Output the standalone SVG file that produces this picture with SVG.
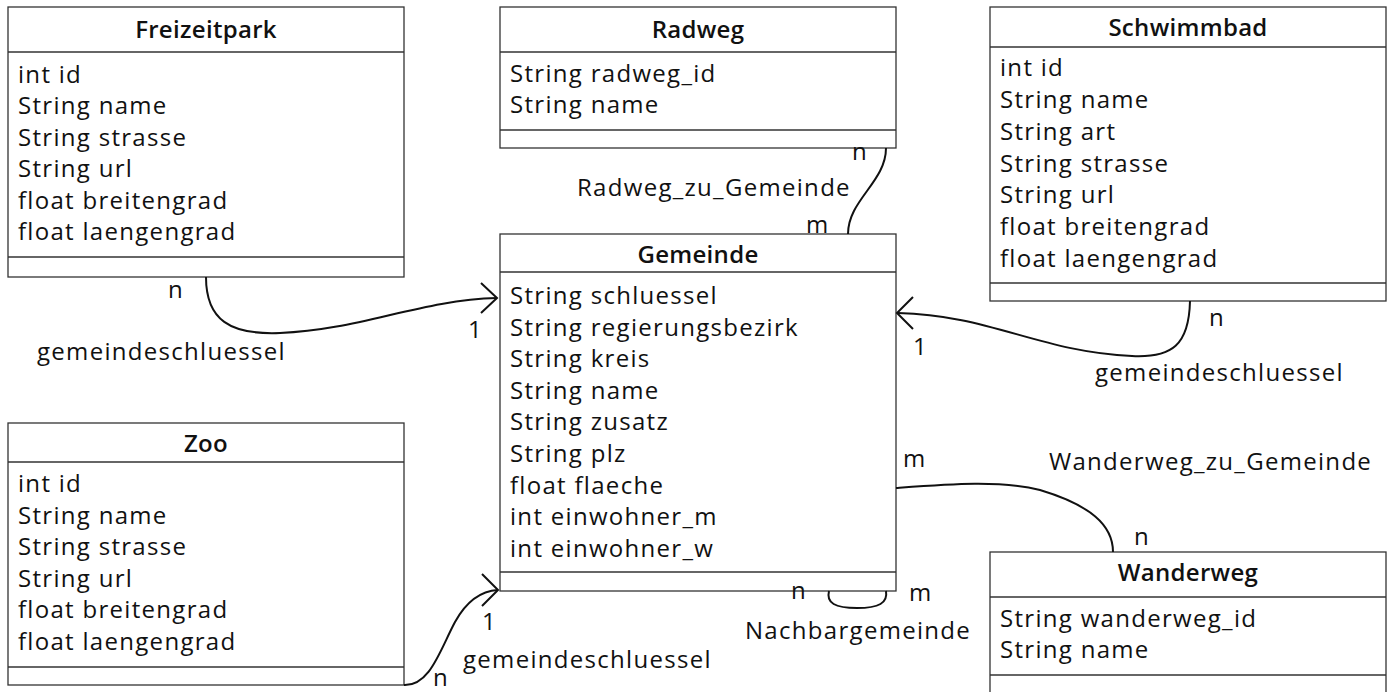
<svg xmlns="http://www.w3.org/2000/svg" width="1395" height="692" viewBox="0 0 1395 692">
<defs>
<style>
.box{fill:#fff;stroke:#333;stroke-width:1.3}
.sep{stroke:#333;stroke-width:1.3;fill:none}
.t{font-family:"Open Sans","DejaVu Sans",sans-serif;font-size:24px;letter-spacing:1.3px;fill:#111}
.h{font-family:"Open Sans","DejaVu Sans",sans-serif;font-size:24px;font-weight:600;letter-spacing:0.3px;fill:#111;text-anchor:middle}
.c{fill:none;stroke:#111;stroke-width:2}
</style>
</defs>
<rect width="1395" height="692" fill="#fff"/>
<g id="Freizeitpark">
<rect class="box" x="8" y="7" width="396" height="270"/>
<line class="sep" x1="8" y1="52" x2="404" y2="52"/>
<line class="sep" x1="8" y1="257" x2="404" y2="257"/>
<text class="h" x="206" y="38">Freizeitpark</text>
<text class="t" x="18" y="83">int id</text>
<text class="t" x="18" y="114">String name</text>
<text class="t" x="18" y="146">String strasse</text>
<text class="t" x="18" y="177">String url</text>
<text class="t" x="18" y="209">float breitengrad</text>
<text class="t" x="18" y="240">float laengengrad</text>
</g>
<g id="Radweg">
<rect class="box" x="500" y="7" width="396" height="141"/>
<line class="sep" x1="500" y1="52" x2="896" y2="52"/>
<line class="sep" x1="500" y1="130" x2="896" y2="130"/>
<text class="h" x="698" y="38">Radweg</text>
<text class="t" x="510" y="82">String radweg_id</text>
<text class="t" x="510" y="113">String name</text>
</g>
<g id="Schwimmbad">
<rect class="box" x="990" y="7" width="396" height="294"/>
<line class="sep" x1="990" y1="47" x2="1386" y2="47"/>
<line class="sep" x1="990" y1="283" x2="1386" y2="283"/>
<text class="h" x="1188" y="36">Schwimmbad</text>
<text class="t" x="1000" y="76">int id</text>
<text class="t" x="1000" y="108">String name</text>
<text class="t" x="1000" y="140">String art</text>
<text class="t" x="1000" y="172">String strasse</text>
<text class="t" x="1000" y="203">String url</text>
<text class="t" x="1000" y="235">float breitengrad</text>
<text class="t" x="1000" y="267">float laengengrad</text>
</g>
<g id="Gemeinde">
<rect class="box" x="500" y="234" width="396" height="357"/>
<line class="sep" x1="500" y1="272" x2="896" y2="272"/>
<line class="sep" x1="500" y1="572" x2="896" y2="572"/>
<text class="h" x="698" y="263">Gemeinde</text>
<text class="t" x="510" y="304">String schluessel</text>
<text class="t" x="510" y="336">String regierungsbezirk</text>
<text class="t" x="510" y="367">String kreis</text>
<text class="t" x="510" y="399">String name</text>
<text class="t" x="510" y="430">String zusatz</text>
<text class="t" x="510" y="462">String plz</text>
<text class="t" x="510" y="494">float flaeche</text>
<text class="t" x="510" y="525">int einwohner_m</text>
<text class="t" x="510" y="557">int einwohner_w</text>
</g>
<g id="Zoo">
<rect class="box" x="8" y="423" width="396" height="262"/>
<line class="sep" x1="8" y1="462" x2="404" y2="462"/>
<line class="sep" x1="8" y1="667" x2="404" y2="667"/>
<text class="h" x="206" y="452">Zoo</text>
<text class="t" x="18" y="492">int id</text>
<text class="t" x="18" y="524">String name</text>
<text class="t" x="18" y="555">String strasse</text>
<text class="t" x="18" y="587">String url</text>
<text class="t" x="18" y="618">float breitengrad</text>
<text class="t" x="18" y="650">float laengengrad</text>
</g>
<g id="Wanderweg">
<rect class="box" x="990" y="552" width="396" height="160"/>
<line class="sep" x1="990" y1="597" x2="1386" y2="597"/>
<line class="sep" x1="990" y1="675" x2="1386" y2="675"/>
<text class="h" x="1188" y="581">Wanderweg</text>
<text class="t" x="1000" y="627">String wanderweg_id</text>
<text class="t" x="1000" y="658">String name</text>
</g>
<g id="connectors">
<path class="c" d="M206,277 C206,320 230,335 280,333 C360,330 420,300 497,298"/>
<path class="c" d="M481,283 L497,298 L481,313"/>
<text class="t" x="168" y="298">n</text>
<text class="t" x="468" y="338">1</text>
<text class="t" x="37" y="360">gemeindeschluessel</text>

<path class="c" d="M886,148 C886,182 848,200 848,234"/>
<text class="t" x="852" y="160">n</text>
<text class="t" x="577" y="196">Radweg_zu_Gemeinde</text>
<text class="t" x="806" y="233">m</text>

<path class="c" d="M1190,301 C1189,345 1172,358 1132,356 C1040,352 990,315 898,313"/>
<path class="c" d="M913,297 L897,313 L913,329"/>
<text class="t" x="1209" y="326">n</text>
<text class="t" x="913" y="355">1</text>
<text class="t" x="1095" y="381">gemeindeschluessel</text>

<path class="c" d="M896,488 C950,484 1000,480 1040,490 C1090,505 1113,525 1113,552"/>
<text class="t" x="903" y="467">m</text>
<text class="t" x="1049" y="470">Wanderweg_zu_Gemeinde</text>
<text class="t" x="1134" y="545">n</text>

<path class="c" d="M829,591 C826,603 835,608 857,608 C879,608 888,603 886,591"/>
<text class="t" x="791" y="599">n</text>
<text class="t" x="909" y="601">m</text>
<text class="t" x="745" y="639">Nachbargemeinde</text>

<path class="c" d="M404,685 C430,686 440,650 455,622 C466,602 480,591 498,590"/>
<path class="c" d="M482,574 L498,590 L482,606"/>
<text class="t" x="482" y="630">1</text>
<text class="t" x="463" y="668">gemeindeschluessel</text>
<text class="t" x="433" y="686">n</text>
</g>
</svg>
